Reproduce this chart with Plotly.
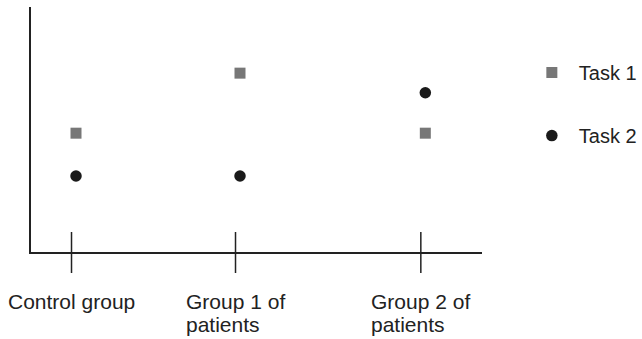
import plotly.graph_objects as go

# ---- data ----
groups = [["Control group"], ["Group 1 of", "patients"], ["Group 2 of", "patients"]]
group_pos = [1.0, 2.0, 3.13]          # horizontal placement of the three groups
task1 = [4.85, 7.3, 4.85]
task2 = [3.1, 3.1, 6.5]
series_names = ["Task 1", "Task 2"]

# ---- style ----
FONT = "Liberation Sans, Arial, Helvetica, sans-serif"
AXIS_COLOR = "#222222"
TEXT_COLOR = "#222222"
LABEL_SIZE = 21
tick_shift = 0.0274   # tick marks sit slightly left of the markers

fig = go.Figure()
fig.add_trace(go.Scatter(
    x=group_pos, y=task1, mode="markers", name=series_names[0], legendgroup="t1",
    marker=dict(symbol="square", size=11, color="#777777", line=dict(width=0)),
))
fig.add_trace(go.Scatter(
    x=group_pos, y=task2, mode="markers", name=series_names[1], legendgroup="t2",
    marker=dict(symbol="circle", size=11.5, color="#1a1a1a", line=dict(width=0)),
))

shapes = []
annotations = []
for lines, p in zip(groups, group_pos):
    shapes.append(dict(type="line", xref="x", yref="paper",
                       x0=p - tick_shift, x1=p - tick_shift, y0=0.0816, y1=-0.0857,
                       line=dict(color=AXIS_COLOR, width=1.5)))
    txt = "<br>".join(f'<span style="font-size:{LABEL_SIZE}px">{ln}</span>' for ln in lines)
    annotations.append(dict(x=p - tick_shift, xref="x", y=-0.145, yref="paper",
                            text=txt, showarrow=False, xanchor="center", yanchor="top",
                            align="left", font=dict(family=FONT, size=17.8, color=TEXT_COLOR)))

fig.update_layout(
    width=642, height=339,
    margin=dict(l=31, r=160, t=7, b=87, autoexpand=False),
    paper_bgcolor="white", plot_bgcolor="white",
    font=dict(family=FONT, color=TEXT_COLOR),
    hovermode=False,
    xaxis=dict(range=[0.7256, 3.4756], showgrid=False, zeroline=False,
               showline=True, linecolor=AXIS_COLOR, linewidth=1.5,
               showticklabels=False, ticks=""),
    yaxis=dict(range=[0, 10], showgrid=False, zeroline=False,
               showline=True, linecolor=AXIS_COLOR, linewidth=1.5,
               showticklabels=False, ticks=""),
    legend=dict(x=1.095, xanchor="left", y=0.812, yanchor="top",
                font=dict(family=FONT, size=20, color=TEXT_COLOR),
                itemwidth=44,
                tracegroupgap=34, bgcolor="rgba(0,0,0,0)"),
    shapes=shapes,
    annotations=annotations,
    showlegend=True,
)

fig.write_html("out.html", config={"displayModeBar": False},
               post_script="document.body.style.margin='0px';")
